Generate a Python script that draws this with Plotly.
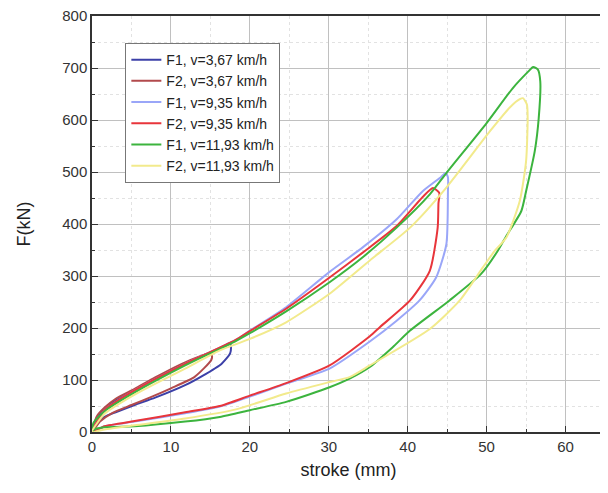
import plotly.graph_objects as go

# F1, v=3,67 km/h
f1_367_x = [0, 0.8, 1.6, 2.9, 5.4, 8, 11.8, 14.5, 16.2, 17.5, 17.6, 17.5, 16.4, 14, 11.8, 8, 5.4, 3, 1.6, 0.5, 0]
f1_367_y = [0, 29, 45, 60, 80, 102, 131, 150, 161, 171, 165, 151, 131, 108, 90, 66, 52, 38, 29, 12, 0]
# F2, v=3,67 km/h
f2_367_x = [0, 0.6, 1.6, 3, 5.4, 8, 11.8, 14.9, 15.2, 15.1, 13, 10, 7.6, 5, 2.5, 1, 0]
f2_367_y = [0, 30, 47, 64, 83, 105, 134, 151, 146, 138, 106, 84, 68, 52, 36, 20, 0]
# F1, v=9,35 km/h
f1_935_x = [0, 1.6, 5.4, 11.8, 18.1, 20, 24.6, 30.1, 34.3, 38.6, 41.9, 44.2, 44.8, 45.1, 45.1, 44.9, 43.6, 41.5, 38.6, 35.2, 30.1, 24.6, 20, 16.2, 11.8, 5.4, 1.6, 0]
f1_935_y = [0, 42, 80, 131, 176, 195, 240, 308, 355, 409, 463, 490, 498, 490, 463, 361, 297, 253, 214, 174, 122, 93, 68, 49, 36, 20, 11, 0]
# F2, v=9,35 km/h
f2_935_x = [0, 1.6, 5.4, 11.8, 18.1, 20, 24.6, 30.1, 34.3, 38.6, 41.9, 43.2, 44, 43.9, 43.8, 42.8, 40.3, 36.5, 35.2, 30.1, 24.6, 20, 16.2, 11.8, 5.4, 1.6, 0]
f2_935_y = [0, 42, 80, 131, 176, 194, 237, 297, 345, 396, 452, 469, 460, 440, 393, 310, 253, 202, 184, 128, 94, 70, 50, 38, 21, 11, 0]
# F1, v=11,93 km/h
f1_1193_x = [0, 0.2, 1.6, 5.4, 11.8, 18.1, 20, 24.6, 30.1, 34.3, 38.6, 42.8, 44.9, 50, 53.3, 55.2, 55.9, 56.5, 56.8, 56.6, 56.1, 55, 54.4, 52.5, 51.4, 49.3, 45.3, 40.3, 38.1, 35.2, 32.7, 30.1, 24.6, 20, 16.2, 11.8, 5.4, 1.6, 0.3, 0]
f1_1193_y = [0, 18, 40, 76, 128, 174, 190, 232, 288, 336, 393, 457, 498, 594, 661, 692, 702, 697, 674, 603, 540, 463, 425, 377, 348, 304, 253, 195, 163, 125, 103, 86, 58, 42, 29, 20, 11, 9, 5, 0]
# F2, v=11,93 km/h
f2_1193_x = [0, 1.6, 5.4, 11.8, 16.2, 20, 24.6, 30.1, 35.2, 40.3, 44.9, 50.4, 53, 54.2, 54.6, 55.1, 55.2, 55, 54.2, 52.5, 51, 49.5, 46.6, 42.8, 35.2, 32.7, 30.1, 24.6, 18.1, 11.8, 5.4, 1.6, 0]
f2_1193_y = [0, 35, 72, 122, 157, 179, 211, 266, 330, 393, 470, 578, 625, 640, 642, 630, 603, 521, 444, 374, 348, 316, 253, 198, 128, 106, 96, 74, 43, 26, 13, 5, 0]

names = ["F1, v=3,67 km/h", "F2, v=3,67 km/h", "F1, v=9,35 km/h",
         "F2, v=9,35 km/h", "F1, v=11,93 km/h", "F2, v=11,93 km/h"]
colors = ["#3c40a8", "#b24a4c", "#9aa6f8", "#e8353b", "#3cb43e", "#f2ea8c"]
series = [(f1_367_x, f1_367_y), (f2_367_x, f2_367_y), (f1_935_x, f1_935_y),
          (f2_935_x, f2_935_y), (f1_1193_x, f1_1193_y), (f2_1193_x, f2_1193_y)]

fig = go.Figure()
for (xs, ys), n, c in zip(series, names, colors):
    fig.add_trace(go.Scatter(x=xs, y=ys, mode="lines", name=n,
                             line=dict(color=c, width=2, shape="spline", smoothing=0.6)))

font_fam = "Liberation Sans, Arial, sans-serif"
axis_common = dict(showline=True, linecolor="#333", linewidth=1.5, mirror=True,
                   ticks="inside", ticklen=6, tickcolor="#333", tickwidth=1.2,
                   showgrid=True, gridcolor="#c0c0c0", gridwidth=1, zeroline=False,
                   automargin=False, ticklabeloverflow="allow",
                   tickfont=dict(size=15, color="#333", family=font_fam))
fig.update_xaxes(range=[0, 65], dtick=10, tick0=0,
                 minor=dict(dtick=5, ticks="inside", ticklen=3, tickcolor="#333",
                            showgrid=True, gridcolor="#e2e2e2", griddash="dot"),
                 title=dict(text="stroke (mm)", font=dict(size=18, color="#222", family=font_fam), standoff=10),
                 **axis_common)
fig.update_yaxes(range=[0, 800], dtick=100, tick0=0,
                 minor=dict(dtick=50, ticks="inside", ticklen=3, tickcolor="#333",
                            showgrid=True, gridcolor="#e2e2e2", griddash="dot"),
                 title=dict(text="F(kN)", font=dict(size=18, color="#222", family=font_fam), standoff=27),
                 **axis_common)
fig.update_layout(width=608, height=493, margin=dict(l=84, r=11, t=8, b=69),
                  plot_bgcolor="white", paper_bgcolor="white",
                  font=dict(family=font_fam),
                  legend=dict(x=0.065, y=0.935, xanchor="left", yanchor="top",
                              bgcolor="white", bordercolor="#777", borderwidth=1,
                              font=dict(size=14, color="#222", family=font_fam),
                              tracegroupgap=0, itemwidth=30))
fig.write_html("out.html")
